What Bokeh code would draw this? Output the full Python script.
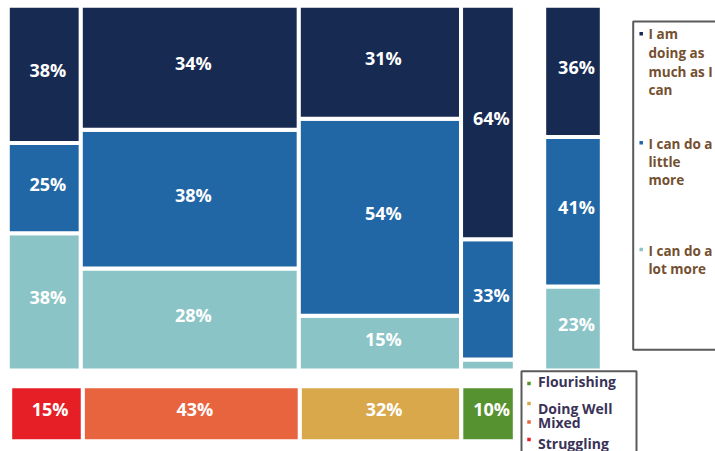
from bokeh.plotting import figure
from bokeh.models import Range1d
from bokeh.core.properties import value
from bokeh.embed import file_html
from bokeh.resources import INLINE

# ---------------- data ----------------
groups = ["Struggling", "Mixed", "Doing Well", "Flourishing"]
group_share = [15, 43, 32, 10]            # % of respondents in each wellbeing group (labels)
column_width = [14.4, 43.0, 32.0, 10.6]   # drawn width of each group's column, % of total
much_as_i_can = [38, 34, 31, 64]          # "I am doing as much as I can"
little_more = [25, 38, 54, 33]            # "I can do a little more"
lot_more = [38, 28, 15, 3]                # "I can do a lot more"
total_all = [36, 41, 23]                  # total: much, little, lot
series_names = ["I am doing as much as I can", "I can do a little more", "I can do a lot more"]
series_wrapped = [["I am", "doing as", "much as I", "can"], ["I can do a", "little", "more"], ["I can do a", "lot more"]]

# ---------------- styles ----------------
series_colors = ["#172a52", "#2166a5", "#8bc4c6"]   # much, little, lot
group_colors = ["#e61e25", "#e8643f", "#d9a84b", "#579230"]
W, H = 715, 451

# picture-pixel -> data helpers (layout only)
def fx(px):
    return (px - 7.3) / 5.07

def fy(py):
    return 100 - (py - 5.3) / 3.647

p = figure(width=W, height=H, x_range=Range1d(fx(0), fx(W)), y_range=Range1d(fy(H), fy(0)),
           output_backend="svg", toolbar_location=None, min_border=0,
           x_axis_location=None, y_axis_location=None)
p.grid.visible = False
p.outline_line_color = None
p.background_fill_color = "white"

# ---------------- mosaic ----------------
qL, qR, qB, qT, qC = [], [], [], [], []
lx, ly, lt = [], [], []
left = 0.0
for i in range(len(groups)):
    right = left + column_width[i]
    vals = [lot_more[i], little_more[i], much_as_i_can[i]]   # bottom -> top
    cols = [series_colors[2], series_colors[1], series_colors[0]]
    s = float(sum(vals))
    b = 0.0
    for v, c in zip(vals, cols):
        t = b + 100.0 * v / s
        qL.append(left); qR.append(right); qB.append(b); qT.append(t); qC.append(c)
        if v >= 5:
            lx.append((left + right) / 2); ly.append((b + t) / 2); lt.append(f"{v}%")
        b = t
    left = right

# total bar
TOT_L, TOT_R = fx(543.7), fx(601.3)
vals = [total_all[2], total_all[1], total_all[0]]
cols = [series_colors[2], series_colors[1], series_colors[0]]
b = 0.0
s = float(sum(vals))
for v, c in zip(vals, cols):
    t = b + 100.0 * v / s
    qL.append(TOT_L); qR.append(TOT_R); qB.append(b); qT.append(t); qC.append(c)
    lx.append((TOT_L + TOT_R) / 2); ly.append((b + t) / 2); lt.append(f"{v}%")
    b = t

# bottom group bar (slightly inset row)
BT, BB = fy(385.7), fy(440.7)
BX0, BX1 = fx(9.7), fx(514.3)
k = (BX1 - BX0) / 100.0
cum = 0.0
for i in range(len(groups)):
    l0 = BX0 + k * cum
    cum += column_width[i]
    r0 = BX0 + k * cum
    qL.append(l0); qR.append(r0); qB.append(BB); qT.append(BT); qC.append(group_colors[i])
    lx.append((l0 + r0) / 2); ly.append((BB + BT) / 2); lt.append(f"{group_share[i]}%")

p.quad(left=qL, right=qR, bottom=qB, top=qT, fill_color=qC, line_color="white", line_width=4)
p.text(x=lx, y=ly, text=lt, text_color="white", text_font=value("Open Sans"),
       text_font_style="bold", text_font_size="18px", text_align="center",
       text_baseline="middle", x_offset=3.5, y_offset=-4.5)

# ---------------- legend 1 (series) ----------------
p.quad(left=[fx(632.7)], right=[fx(760)], top=[fy(21)], bottom=[fy(349.3)],
       fill_color=None, line_color="#5a5a5a", line_width=2)
leg1_base = [[33, 52, 71, 89.5], [143, 161, 179], [250, 268]]
leg1_mark = [33.3, 142.3, 249]
tx, ty, tt = [], [], []
for lines, bases in zip(series_wrapped, leg1_base):
    for ln, bs in zip(lines, bases):
        tx.append(fx(648)); ty.append(fy(bs)); tt.append(ln)
p.text(x=tx, y=ty, text=tt, text_color="#74502f", text_font=value("Open Sans"),
       text_font_style="bold", text_font_size="13.5px", text_align="left", text_baseline="alphabetic")
p.scatter(x=[fx(640.7)] * 3, y=[fy(v) for v in leg1_mark], marker="square", size=3.5,
          fill_color=series_colors, line_color=None)

# ---------------- legend 2 (groups) ----------------
p.quad(left=[fx(521)], right=[fx(636)], top=[fy(370.7)], bottom=[fy(480)],
       fill_color=None, line_color="#5a5a5a", line_width=2)
leg2_names = groups[::-1]
leg2_colors = group_colors[::-1]
leg2_base = [381, 408, 422.3, 442.5]
leg2_mark = [383, 403, 421.5, 439]
p.text(x=[fx(537.5)] * 4, y=[fy(v) for v in leg2_base], text=leg2_names, text_color="#3a3358",
       text_font=value("Open Sans"), text_font_style="bold", text_font_size="14px",
       text_align="left", text_baseline="alphabetic")
p.scatter(x=[fx(528.5)] * 4, y=[fy(v) for v in leg2_mark], marker="square", size=3.5,
          fill_color=leg2_colors, line_color=None)

open("out.html", "w").write(file_html(p, INLINE))
